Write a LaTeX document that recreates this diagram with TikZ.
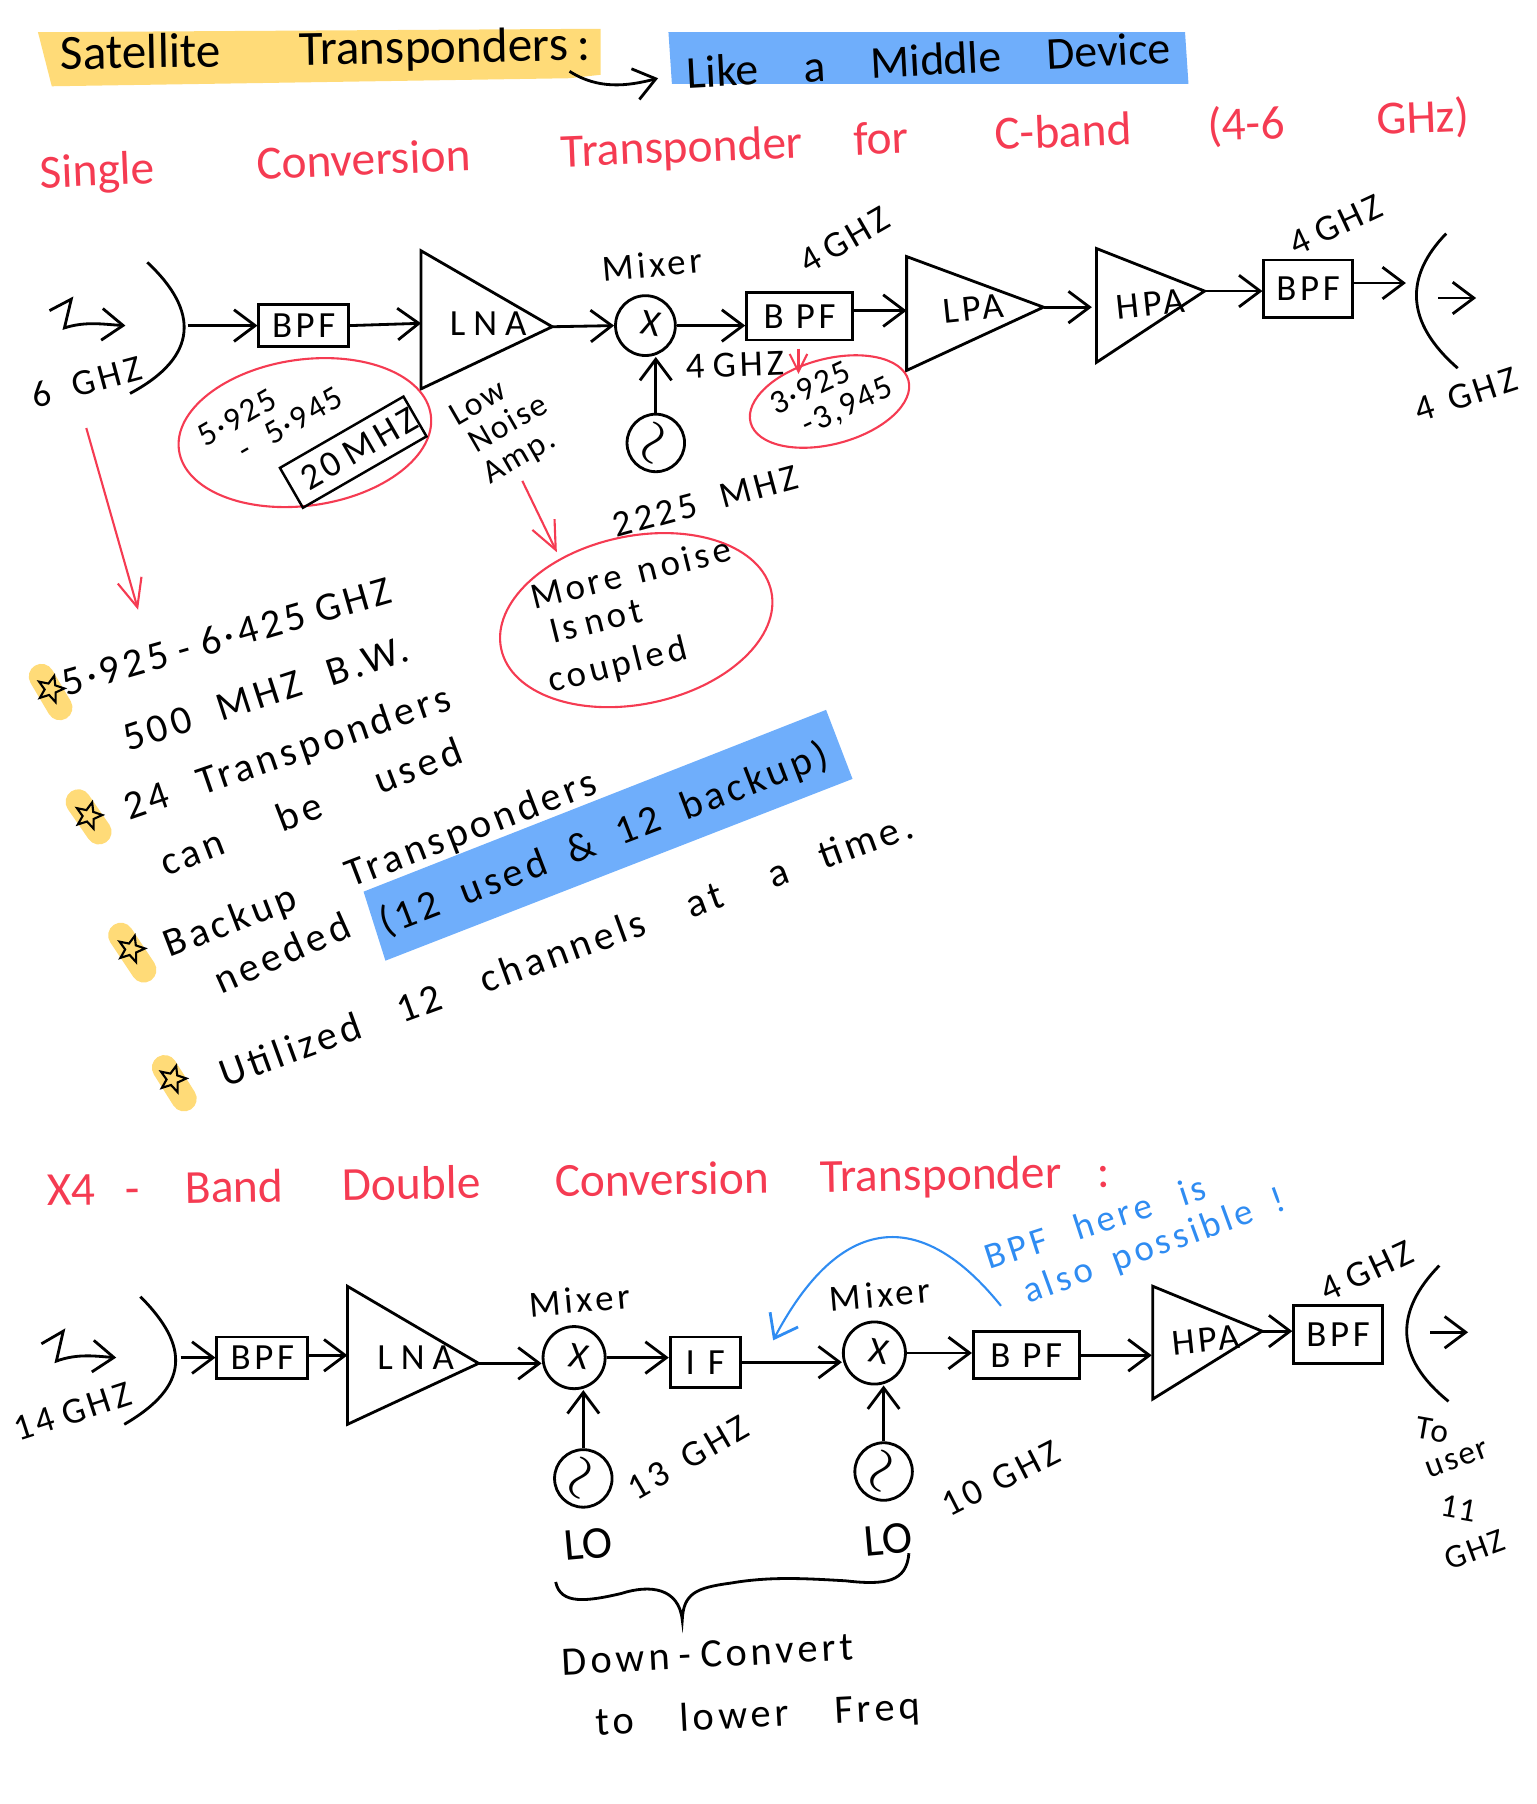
\documentclass[tikz,border=0pt]{standalone}
\usepackage{fontspec}
\setmainfont{Carlito}
\usepackage{xcolor}
\usetikzlibrary{arrows.meta,shapes.geometric}
\newlength{\pxu}
\setlength{\pxu}{0.11505mm}
\newcommand{\hw}[2]{\makebox[#1\pxu][s]{#2}}
\newcommand{\gp}[1]{\hspace{#1\pxu}}
\newcommand{\handfont}{\fontsize{10.5}{12}\selectfont\addfontfeature{LetterSpace=10}}
\newcommand{\listfont}{\fontsize{11.5}{13}\selectfont\addfontfeature{LetterSpace=10}}
\newcommand{\tinyfont}{\fontsize{9.5}{11}\selectfont\addfontfeature{LetterSpace=6}}
\definecolor{hlyellow}{HTML}{FFDB78}
\definecolor{hlblue}{HTML}{6FAEFB}
\definecolor{penred}{HTML}{F53B52}
\definecolor{penblue}{HTML}{2F8CF2}
\tikzset{
	>={Straight Barb[length=6pt,width=9pt,line width=0.8pt]},
	wire/.style={line width=0.8pt},
	hand/.style={inner sep=0pt,font=\handfont},
	listtext/.style={inner sep=0pt,font=\listfont},
	tiny/.style={inner sep=0pt,font=\tinyfont},
	headline/.style={inner sep=0pt,font=\fontsize{13}{15}\selectfont},
	title/.style={inner sep=0pt,text=penred,font=\fontsize{13.5}{15}\selectfont},
	note/.style={inner sep=0pt,text=penblue,font=\handfont},
	box/.style={draw,wire,inner sep=0pt,font=\handfont},
	circ/.style={circle,draw,wire,inner sep=0pt,minimum size=52\pxu},
	wavy/.style={inner sep=0pt,rotate=70,font=\fontsize{16}{16}\selectfont},
	ring/.style={ellipse,draw=penred,line width=0.6pt,inner sep=0pt},
	redpen/.style={draw=penred,line width=0.6pt,>={Straight Barb[length=8pt,width=7pt,line width=0.6pt]}},
	swipe/.style={line width=22\pxu,line cap=round,hlyellow},
	starmark/.style={star,star points=5,star point ratio=2.3,draw,line width=0.6pt,fill=hlyellow,inner sep=0pt,minimum size=24\pxu}
}
\begin{document}
\begin{tikzpicture}[x=\pxu,y=-\pxu]
	\useasboundingbox (0,0) rectangle (1335.07,1568);

	% highlights
	\fill[hlyellow] (33,28) -- (522,25) -- (522,65) -- (495,68) -- (45,75) -- cycle;
	\fill[hlblue] (581,28) -- (1030,28) -- (1033,73) -- (584,73) -- cycle;
	\fill[hlblue] (316,775) -- (718,617) -- (741,677) -- (335,835) -- cycle;

	\node[headline,rotate=1,font=\fontsize{14}{16}\selectfont] (head1) at (283,45) {Satellite\gp{68}Transponders\gp{8}:};
	\node[headline,rotate=3] (head2) at (807,52) {\hw{421}{Like a Middle Device}};
	\coordinate (head1out) at (495,62);
	\coordinate (head2in) at (572,68);
	\draw[->,wire] (head1out) .. controls (520,78) and (545,75) .. (head2in);

	\node[title,rotate=2.3] (title1) at (656,127) {Single\gp{89}Conversion\gp{79}Transponder\gp{44}for\gp{75}C-band\gp{66}(4-6\gp{80}GHz)};

	% single conversion chain
	\coordinate (wave1) at (43,270);
	\draw[->,wire] (wave1) -- (62,260) -- (56,285) .. controls (75,279) and (90,282) .. (109,283);
	\coordinate (dish1t) at (128,228);
	\coordinate (dish1b) at (113,342);
	\coordinate (dish1out) at (163,283);
	\draw[wire] (dish1t) .. controls (173,270) and (173,310) .. (dish1b);
	\node[hand,rotate=15] (ghz1) at (75,332) {\hw{98}{6 GHZ}};

	\node[box,minimum width=78\pxu,minimum height=36\pxu] (bpf1) at (264,283) {BPF};
	\coordinate (lna1in) at (366,281);
	\coordinate (lna1out) at (480,284);
	\draw[wire] (366,218) -- (lna1out) -- (366,338) -- cycle;
	\node[hand] (lna1) at (420,281) {\hw{58}{L N A}};
	\node[circ] (mix1) at (561,283) {};
	\node[hand,rotate=-10] (x1) at (566,281) {X};
	\node[hand,rotate=5] (mixer1) at (567,230) {Mixer};
	\node[box,minimum width=92\pxu,minimum height=41\pxu] (bpf2) at (695,275) {B PF};
	\node[hand,rotate=30] (ghz2) at (732,210) {\hw{80}{4 GHZ}};
	\coordinate (lpa1in) at (788,270);
	\coordinate (lpa1out) at (907,267);
	\draw[wire] (788,223) -- (lpa1out) -- (788,322) -- cycle;
	\node[hand,rotate=6] (lpa1) at (846,268) {LPA};
	\coordinate (hpa1in) at (949,267);
	\coordinate (hpa1out) at (1047,253);
	\draw[wire] (953,216) -- (hpa1out) -- (953,315) -- cycle;
	\node[hand,rotate=6] (hpa1) at (1000,264) {HPA};
	\node[box,minimum width=77\pxu,minimum height=50\pxu] (bpf3) at (1137,251) {BPF};
	\node[hand,rotate=25] (ghz3) at (1160,196) {\hw{82}{4 GHZ}};
	\coordinate (dish2in) at (1222,246);
	\coordinate (dish2t) at (1257,203);
	\coordinate (dish2b) at (1267,320);
	\draw[wire] (dish2t) .. controls (1221,240) and (1221,280) .. (dish2b);
	\coordinate (beam1a) at (1250,259);
	\coordinate (beam1b) at (1283,259);
	\draw[->,wire] (beam1a) -- (beam1b);
	\node[hand,rotate=18] (ghz4) at (1274,343) {\hw{92}{4 GHZ}};

	\draw[->,wire] (dish1out) -- (bpf1.west);
	\draw[->,wire] (bpf1.east) -- (lna1in);
	\draw[->,wire] (lna1out) -- (mix1.west);
	\draw[->,wire] (mix1.east) -- (mix1.east -| bpf2.west);
	\draw[->,wire] (bpf2.east |- lpa1in) -- (lpa1in);
	\draw[->,wire] (lpa1out) -- (hpa1in);
	\draw[->,wire] (hpa1out) -- (bpf3.west |- hpa1out);
	\draw[->,wire] (bpf3.east |- dish2in) -- (dish2in);

	\node[circ,minimum size=50\pxu] (lo1) at (570,385) {};
	\node[wavy] (sin1) at (571,386) {$\sim$};
	\draw[->,wire] (lo1) -- (mix1.south -| lo1);
	\node[hand,rotate=2] (ghz5) at (634,317) {\hw{75}{4 GHZ}};
	\node[hand,rotate=15] (lofreq1) at (613,436) {\hw{165}{2225 MHZ}};

	% notes under the chain
	\node[ring,rotate=8,minimum width=221\pxu,minimum height=127\pxu] (ring1) at (265,376) {};
	\node[tiny,rotate=30] (band1) at (206,363) {5·925};
	\node[tiny,rotate=30] (band2) at (252,368) {\hw{100}{- 5·945}};
	\node[box,rotate=30,minimum width=124\pxu,minimum height=40\pxu,line width=0.7pt] (bw1) at (307,393) {\hw{100}{20 MHZ}};
	\node[tiny,rotate=30] (low1) at (415,350) {Low};
	\node[tiny,rotate=30] (noise1) at (441,367) {Noise};
	\node[tiny,rotate=30] (amp1) at (452,398) {Amp.};
	\coordinate (amp1out) at (454,418);
	\coordinate (ring2in) at (484,480);
	\draw[->,redpen] (amp1out) -- (ring2in);
	\node[ring,rotate=12,minimum width=240\pxu,minimum height=146\pxu] (ring2) at (553,539) {};
	\node[hand,rotate=14] (more1) at (548,498) {\hw{178}{More noise}};
	\node[hand,rotate=14] (more2) at (517,540) {\hw{80}{Is not}};
	\node[hand,rotate=14] (more3) at (537,579) {coupled};
	\coordinate (bpf2out) at (694,303);
	\coordinate (ring3in) at (694,325);
	\draw[->,redpen,>={Straight Barb[length=5pt,width=5pt,line width=0.6pt]}] (bpf2out) -- (ring3in);
	\node[ring,rotate=15,minimum width=142\pxu,minimum height=74\pxu] (ring3) at (721,349) {};
	\node[tiny,rotate=25] (band3) at (704,337) {3·925};
	\node[tiny,rotate=25] (band4) at (737,354) {-3,945};
	\coordinate (ghz1out) at (75,372);
	\coordinate (list1in) at (120,530);
	\draw[->,redpen] (ghz1out) -- (list1in);

	% bullet list
	\draw[swipe] (36,588) -- (52,615);
	\node[starmark,rotate=-15] (star1) at (44,599) {};
	\node[listtext,rotate=16] (item1) at (197,553) {\hw{296}{5·925 - 6·425 GHZ}};
	\node[listtext,rotate=18] (item1b) at (231,603) {\hw{258}{500 MHZ B.W.}};
	\draw[swipe] (68,697) -- (86,723);
	\node[starmark,rotate=-15] (star2) at (77,709) {};
	\node[listtext,rotate=19] (item2) at (250,656) {\hw{298}{24 Transponders}};
	\node[listtext,rotate=21] (item2b) at (270,701) {\hw{278}{can be used}};
	\draw[swipe] (105,813) -- (125,843);
	\node[starmark,rotate=-15] (star3) at (114,825) {};
	\node[listtext,rotate=21] (item3) at (331,752) {\hw{400}{Backup Transponders}};
	\node[listtext,rotate=24] (item3b) at (245,828) {needed};
	\node[listtext,rotate=21] (item3c) at (525,730) {\hw{414}{(12 used \& 12 backup)}};
	\draw[swipe] (143,928) -- (160,955);
	\node[starmark,rotate=-15] (star4) at (150,938) {};
	\node[listtext,rotate=20] (item4) at (492,825) {Utilized\gp{35}12\gp{38}channels\gp{40}at\gp{44}a\gp{30}time.};

	% double conversion chain
	\node[title,rotate=1] (title2) at (503,1029) {X4\gp{26}-\gp{39}Band\gp{51}Double\gp{65}Conversion\gp{44}Transponder\gp{31}:};
	\coordinate (wave2) at (36,1168);
	\draw[->,wire] (wave2) -- (55,1157) -- (49,1183) .. controls (68,1176) and (85,1179) .. (101,1180);
	\coordinate (dish3t) at (122,1127);
	\coordinate (dish3b) at (108,1238);
	\coordinate (dish3out) at (157,1180);
	\draw[wire] (dish3t) .. controls (165,1170) and (165,1205) .. (dish3b);
	\node[hand,rotate=18] (ghz6) at (63,1227) {\hw{105}{14 GHZ}};

	\node[box,minimum width=79\pxu,minimum height=36\pxu] (bpf4) at (228,1180) {BPF};
	\coordinate (lna2in) at (302,1178);
	\coordinate (lna2out) at (416,1185);
	\draw[wire] (302,1118) -- (lna2out) -- (302,1238) -- cycle;
	\node[hand] (lna2) at (357,1180) {\hw{58}{L N A}};
	\node[circ,minimum size=54\pxu] (mix2) at (499,1180) {};
	\node[hand,rotate=-10] (x2) at (503,1179) {X};
	\node[hand,rotate=5] (mixer2) at (504,1130) {Mixer};
	\node[box,minimum width=61\pxu,minimum height=44\pxu] (if1) at (613,1184) {\hw{34}{I F}};
	\node[circ,minimum size=54\pxu] (mix3) at (760,1176) {};
	\node[hand,rotate=-10] (x3) at (764,1175) {X};
	\node[hand,rotate=5] (mixer3) at (765,1125) {Mixer};
	\node[box,minimum width=92\pxu,minimum height=41\pxu] (bpf5) at (892,1178) {B PF};
	\coordinate (hpa2in) at (1001,1178);
	\coordinate (hpa2out) at (1097,1157);
	\draw[wire] (1002,1118) -- (hpa2out) -- (1002,1216) -- cycle;
	\node[hand,rotate=6] (hpa2) at (1048,1165) {HPA};
	\node[box,minimum width=77\pxu,minimum height=50\pxu] (bpf6) at (1163,1160) {BPF};
	\node[hand,rotate=25] (ghz7) at (1187,1105) {\hw{82}{4 GHZ}};
	\coordinate (dish4t) at (1251,1100);
	\coordinate (dish4b) at (1259,1218);
	\draw[wire] (dish4t) .. controls (1212,1140) and (1212,1180) .. (dish4b);
	\coordinate (beam2a) at (1243,1158);
	\coordinate (beam2b) at (1276,1158);
	\draw[->,wire] (beam2a) -- (beam2b);
	\node[tiny,rotate=-10] (user1) at (1245,1243) {To};
	\node[tiny,rotate=20] (user2) at (1267,1269) {user};
	\node[tiny,rotate=-10] (user3) at (1268,1311) {11};
	\node[tiny,rotate=20] (user4) at (1282,1347) {GHZ};

	\draw[->,wire] (dish3out) -- (bpf4.west);
	\draw[->,wire] (bpf4.east |- lna2in) -- (lna2in);
	\draw[->,wire] (lna2out) -- (mix2.west |- lna2out);
	\draw[->,wire] (mix2.east) -- (if1.west |- mix2.east);
	\draw[->,wire] (if1.east) -- (mix3.west |- if1.east);
	\draw[->,wire] (mix3.east) -- (bpf5.west |- mix3.east);
	\draw[->,wire] (bpf5.east) -- (hpa2in);
	\draw[->,wire] (hpa2out) -- (bpf6.west |- hpa2out);

	\node[circ,minimum size=50\pxu] (lo2) at (507,1285) {};
	\node[wavy] (sin2) at (508,1286) {$\sim$};
	\draw[->,wire] (lo2) -- (mix2.south -| lo2);
	\node[circ,minimum size=50\pxu] (lo3) at (768,1279) {};
	\node[wavy] (sin3) at (769,1280) {$\sim$};
	\draw[->,wire] (lo3) -- (mix3.south -| lo3);
	\node[hand,rotate=30] (ghz8) at (598,1267) {\hw{115}{13 GHZ}};
	\node[hand,rotate=27] (ghz9) at (870,1285) {\hw{110}{10 GHZ}};
	\node[headline,rotate=5] (lo2txt) at (511,1342) {LO};
	\node[headline,rotate=5] (lo3txt) at (772,1338) {LO};

	% brace and the other notes
	\coordinate (bracel) at (483,1375);
	\coordinate (bracer) at (790,1350);
	\draw[wire] (bracel) .. controls (487,1395) and (510,1392) .. (540,1385)
		.. controls (565,1377) and (590,1380) .. (593,1408)
		.. controls (594,1385) and (605,1380) .. (635,1376)
		.. controls (670,1370) and (700,1372) .. (735,1374)
		.. controls (770,1378) and (788,1375) .. (bracer);
	\node[listtext,rotate=3] (down1) at (615,1438) {\hw{254}{Down - Convert}};
	\node[listtext,rotate=3] (down2) at (659,1492) {\hw{282}{to lower Freq}};

	\node[note,rotate=18] (note1) at (952,1062) {\hw{200}{BPF here is}};
	\node[note,rotate=20] (note2) at (1004,1084) {\hw{240}{also possible !}};
	\coordinate (note1out) at (870,1135);
	\coordinate (if1up) at (672,1165);
	\draw[->,draw=penblue,line width=0.6pt] (note1out) .. controls (800,1048) and (730,1055) .. (if1up);
\end{tikzpicture}
\end{document}
